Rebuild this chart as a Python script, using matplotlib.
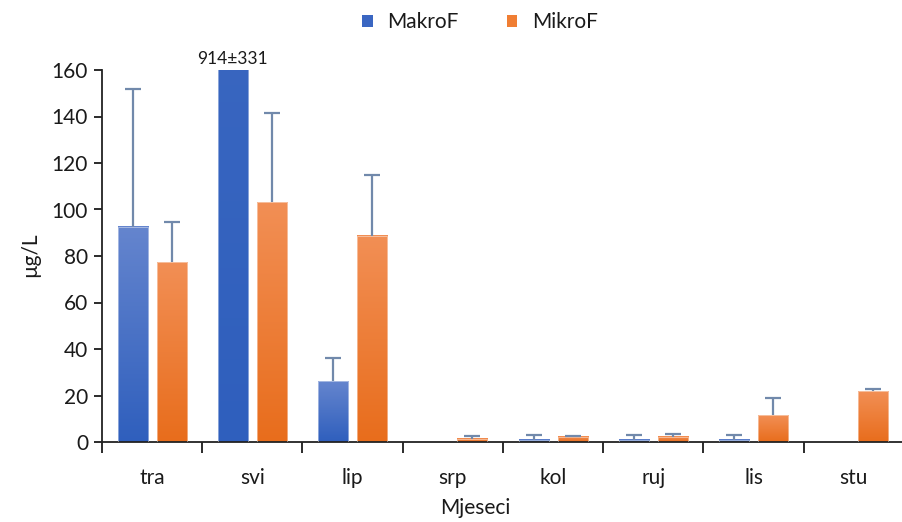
import numpy as np
import matplotlib
matplotlib.use("Agg")
import matplotlib.pyplot as plt
from matplotlib.colors import LinearSegmentedColormap
from matplotlib.patches import Patch

months = ['tra', 'svi', 'lip', 'srp', 'kol', 'ruj', 'lis', 'stu']
makro = [92.5, 914, 26.2, np.nan, 1.0, 1.0, 1.0, np.nan]
makro_err = [59.5, 331, 9.8, np.nan, 1.8, 1.8, 1.8, np.nan]
mikro = [77.3, 103.2, 88.7, 1.4, 2.3, 2.3, 11.5, 21.9]
mikro_err = [17.2, 38.3, 26.3, 1.3, 0.4, 1.3, 7.3, 0.8]
series_names = ['MakroF', 'MikroF']
svi_label = '914±331'

plt.rcParams['font.family'] = ['Lato', 'DejaVu Sans']
plt.rcParams['text.color'] = '#1a1a1a'
plt.rcParams['xtick.color'] = '#1a1a1a'
plt.rcParams['ytick.color'] = '#1a1a1a'

fig = plt.figure(figsize=(9.03, 5.22), dpi=100)
W, H = 903, 522
ax = fig.add_axes([102 / W, (H - 442) / H, (904 - 102) / W, (442 - 70) / H])

blue_cmap = LinearSegmentedColormap.from_list('b', ['#2F5FBD', '#6585CE'])
orange_cmap = LinearSegmentedColormap.from_list('o', ['#E86D1C', '#F28F55'])
err_color = '#7189AB'

width = 0.30
off = 0.195
x = np.arange(len(months))
grad = np.linspace(0, 1, 256).reshape(-1, 1)


def draw_bars(xs, vals, errs, cmap):
    for xi, v, e in zip(xs, vals, errs):
        if np.isnan(v):
            continue
        ax.imshow(grad, cmap=cmap, origin='lower', aspect='auto',
                  extent=[xi - width / 2, xi + width / 2, 0, v], zorder=2)
        ax.bar(xi, v, width=width, facecolor='none', edgecolor='#FFFFFF',
               linewidth=0.6, alpha=0.5, zorder=3)
        _, caps, _ = ax.errorbar(xi, v, yerr=[[0], [e]], fmt='none', ecolor=err_color,
                                 elinewidth=1.6, capsize=5.5, capthick=1.6, zorder=4)
        if len(caps) == 2:
            caps[0].set_visible(False)


draw_bars(x - off, makro, makro_err, blue_cmap)
draw_bars(x + off, mikro, mikro_err, orange_cmap)

ax.set_xlim(-0.5, len(months) - 0.5)
ax.set_ylim(0, 160)
ax.set_yticks(np.arange(0, 161, 20))
ax.set_xticks(x)
ax.set_xticklabels(months)
ax.set_xticks(np.arange(-0.5, len(months) - 0.4, 1), minor=True)
ax.tick_params(axis='x', which='major', length=0, pad=19, labelsize=15)
ax.tick_params(axis='x', which='minor', length=8, width=1.3, direction='out')
ax.tick_params(axis='y', length=6, width=1.3, labelsize=15, pad=4)

for s in ['top', 'right']:
    ax.spines[s].set_visible(False)
for s in ['left', 'bottom']:
    ax.spines[s].set_linewidth(1.3)
    ax.spines[s].set_color('#222222')

ax.text(x[1] - off, 161.5, svi_label, ha='center', va='bottom', fontsize=12.5,
        clip_on=False)

fig.text(30 / W, 1 - 255 / H, 'µg/L', rotation=90, ha='center', va='center',
         fontsize=15)
fig.text(475 / W, 1 - 508 / H, 'Mjeseci', ha='center', va='center', fontsize=15)

handles = [Patch(facecolor='#3A66C2'), Patch(facecolor='#F07E33')]
fig.legend(handles, series_names, loc='center', bbox_to_anchor=(480 / W, 1 - 22 / H),
           ncol=2, frameon=False, fontsize=15, handlelength=0.5, handleheight=0.5,
           columnspacing=2.3, handletextpad=0.7)

fig.savefig('out.png', dpi=100)
